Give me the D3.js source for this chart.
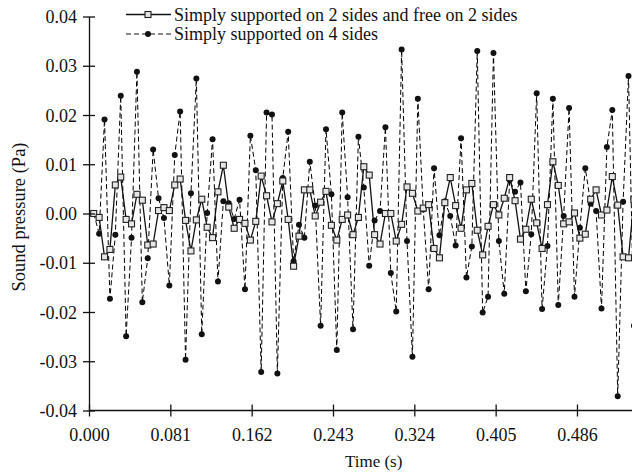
<!DOCTYPE html>
<html>
<head>
<meta charset="utf-8">
<script src="https://cdn.jsdelivr.net/npm/d3@7"></script>
<style>
  html, body { margin: 0; padding: 0; background: #fff; }
  svg { display: block; }
  text { font-family: "Liberation Serif", "Times New Roman", serif; fill: #111; }
</style>
</head>
<body>
<svg id="chart" width="632" height="474"></svg>
<script>
// ---- data ----
const seriesNames = [
  "Simply supported on 2 sides and free on 2 sides",
  "Simply supported on 4 sides"
];
// sampling of the time signal (s)
const t0 = 0.0047;
const dt = 0.00538;
const freeTwoSides = [
  0.0000, -0.0008, -0.0088, -0.0073, 0.0058, 0.0074, -0.0012, -0.0021, 0.0039, 0.0027,
  -0.0064, -0.0062, 0.0006, 0.0012, 0.0006, 0.0058, 0.0070, -0.0014, -0.0076, -0.0013,
  0.0029, -0.0028, -0.0049, 0.0044, 0.0098, 0.0013, -0.0030, -0.0012, -0.0020, -0.0054,
  -0.0016, 0.0076, 0.0036, -0.0017, 0.0020, 0.0066, -0.0012, -0.0107, -0.0046, 0.0048,
  0.0048, -0.0005, 0.0023, 0.0045, -0.0024, -0.0054, -0.0012, -0.0003, -0.0043, -0.0008,
  0.0095, 0.0078, -0.0043, -0.0062, 0.0000, 0.0000, -0.0056, -0.0022, 0.0054, 0.0041,
  0.0005, 0.0011, 0.0018, -0.0071, -0.0090, 0.0022, 0.0073, 0.0016, -0.0030, 0.0048,
  0.0061, -0.0034, -0.0084, -0.0026, 0.0018, -0.0003, 0.0031, 0.0073, 0.0026, -0.0052,
  -0.0032, 0.0029, -0.0019, -0.0071, 0.0018, 0.0105, 0.0057, -0.0021, -0.0017, 0.0001,
  -0.0050, -0.0042, 0.0029, 0.0048, -0.0003, 0.0007, 0.0075, 0.0017, -0.0088, -0.0090,
  0.0028
];
const fourSides = [
  0.0000, -0.0041, 0.0191, -0.0173, -0.0043, 0.0239, -0.0249, -0.0049, 0.0288, -0.0180,
  -0.0091, 0.0130, 0.0031, -0.0009, -0.0146, 0.0119, 0.0207, -0.0297, 0.0041, 0.0274,
  -0.0245, 0.0001, 0.0151, -0.0138, 0.0025, 0.0021, -0.0011, 0.0028, -0.0154, 0.0158,
  0.0088, -0.0322, 0.0205, 0.0201, -0.0325, 0.0072, 0.0166, -0.0097, -0.0023, -0.0049,
  0.0105, 0.0016, -0.0228, 0.0171, 0.0039, -0.0277, 0.0205, 0.0033, -0.0235, 0.0156,
  0.0053, -0.0106, -0.0014, 0.0005, 0.0175, -0.0121, -0.0199, 0.0333, -0.0056, -0.0291,
  0.0233, 0.0008, -0.0154, 0.0092, -0.0044, 0.0025, -0.0005, -0.0065, 0.0153, -0.0130,
  -0.0067, 0.0330, -0.0201, -0.0169, 0.0326, -0.0056, -0.0163, 0.0068, 0.0044, 0.0063,
  -0.0158, -0.0042, 0.0244, -0.0194, -0.0066, 0.0233, -0.0186, -0.0005, 0.0214, -0.0169,
  -0.0029, 0.0092, 0.0020, 0.0005, -0.0193, 0.0135, 0.0210, -0.0371, 0.0024, 0.0279,
  -0.0228
];
const xTicks = [0.000, 0.081, 0.162, 0.243, 0.324, 0.405, 0.486];
const xTickLabels = ["0.000", "0.081", "0.162", "0.243", "0.324", "0.405", "0.486"];
const yTicks = [-0.04, -0.03, -0.02, -0.01, 0.00, 0.01, 0.02, 0.03, 0.04];
const yTickLabels = ["-0.04", "-0.03", "-0.02", "-0.01", "0.00", "0.01", "0.02", "0.03", "0.04"];
const xTitle = "Time (s)";
const yTitle = "Sound pressure (Pa)";

// ---- layout ----
const svg = d3.select("#chart");
const W = 632, H = 474;
const mLeft = 89, mTop = 16.5, mBottom = 410.5;
const tickStep = 81.33;
const x = d3.scaleLinear().domain([0, 0.567]).range([mLeft, mLeft + 7 * tickStep]);
const y = d3.scaleLinear().domain([-0.04, 0.04]).range([mBottom, mTop]);

svg.append("rect").attr("width", W).attr("height", H).attr("fill", "#fff");

const d1 = freeTwoSides.map((v, i) => ({ t: t0 + i * dt, v }));
const d2 = fourSides.map((v, i) => ({ t: t0 + i * dt, v }));

const line = d3.line().x(d => x(d.t)).y(d => y(d.v));

// series 2 (dashed, filled circles)
svg.append("path").datum(d2)
  .attr("d", line).attr("fill", "none")
  .attr("stroke", "#000").attr("stroke-width", 1)
  .attr("stroke-dasharray", "5,3");
svg.append("g").selectAll("circle").data(d2).join("circle")
  .attr("cx", d => x(d.t)).attr("cy", d => y(d.v)).attr("r", 3)
  .attr("fill", "#111");

// series 1 (solid, open squares)
svg.append("path").datum(d1)
  .attr("d", line).attr("fill", "none")
  .attr("stroke", "#111").attr("stroke-width", 1.3);
const sq = 6;
svg.append("g").selectAll("rect").data(d1).join("rect")
  .attr("x", d => x(d.t) - sq / 2).attr("y", d => y(d.v) - sq / 2)
  .attr("width", sq).attr("height", sq)
  .attr("fill", "#e6e6e6").attr("stroke", "#222").attr("stroke-width", 1.1);

// ---- axes ----
const xAxis = d3.axisBottom(x).tickValues(xTicks)
  .tickFormat((d, i) => xTickLabels[i]).tickSizeOuter(0).tickSizeInner(6).tickPadding(0);
const gx = svg.append("g").attr("transform", `translate(0,${mBottom})`).call(xAxis);
gx.select(".domain").attr("d", `M${mLeft},0H${W + 40}`).attr("stroke", "#111").attr("stroke-width", 1.3);
gx.selectAll(".tick line").attr("y1", -6).attr("y2", 6).attr("stroke", "#111").attr("stroke-width", 1.3);
gx.selectAll(".tick text").attr("y", 30).attr("dy", 0)
  .style("font-family", '"Liberation Serif", serif').style("font-size", "18px").attr("fill", "#111");

const yAxis = d3.axisLeft(y).tickValues(yTicks)
  .tickFormat((d, i) => yTickLabels[i]).tickSizeOuter(0).tickSizeInner(5).tickPadding(0);
const gy = svg.append("g").attr("transform", `translate(${mLeft},0)`).call(yAxis);
gy.select(".domain").attr("stroke", "#111").attr("stroke-width", 1.3);
gy.selectAll(".tick line").attr("x1", -6).attr("x2", 6).attr("stroke", "#111").attr("stroke-width", 1.3);
gy.selectAll(".tick text").attr("x", -12).attr("dy", "0.34em")
  .style("font-family", '"Liberation Serif", serif').style("font-size", "18px").attr("fill", "#111");

// titles
svg.append("text").attr("x", (x(0) + x(0.567)) / 2).attr("y", 467)
  .attr("text-anchor", "middle").style("font-size", "17px").text(xTitle);
svg.append("text").attr("transform", `translate(25,217) rotate(-90)`)
  .attr("text-anchor", "middle").style("font-size", "18.5px").text(yTitle);

// ---- legend ----
const leg = svg.append("g");
const lx1 = 126, lx2 = 171, lmid = 148, ltx = 174;
const rows = [
  { y: 14.5, name: seriesNames[0], dash: null, marker: "square" },
  { y: 34, name: seriesNames[1], dash: "5,3", marker: "circle" }
];
rows.forEach(r => {
  leg.append("line").attr("x1", lx1).attr("x2", lx2).attr("y1", r.y).attr("y2", r.y)
    .attr("stroke", "#111").attr("stroke-width", r.dash ? 1 : 1.3)
    .attr("stroke-dasharray", r.dash);
  if (r.marker === "square") {
    leg.append("rect").attr("x", lmid - sq / 2).attr("y", r.y - sq / 2)
      .attr("width", sq).attr("height", sq)
      .attr("fill", "#e6e6e6").attr("stroke", "#222").attr("stroke-width", 1.1);
  } else {
    leg.append("circle").attr("cx", lmid).attr("cy", r.y).attr("r", 3).attr("fill", "#111");
  }
  leg.append("text").attr("x", ltx).attr("y", r.y + 6).style("font-size", "18px").text(r.name);
});
</script>
</body>
</html>
